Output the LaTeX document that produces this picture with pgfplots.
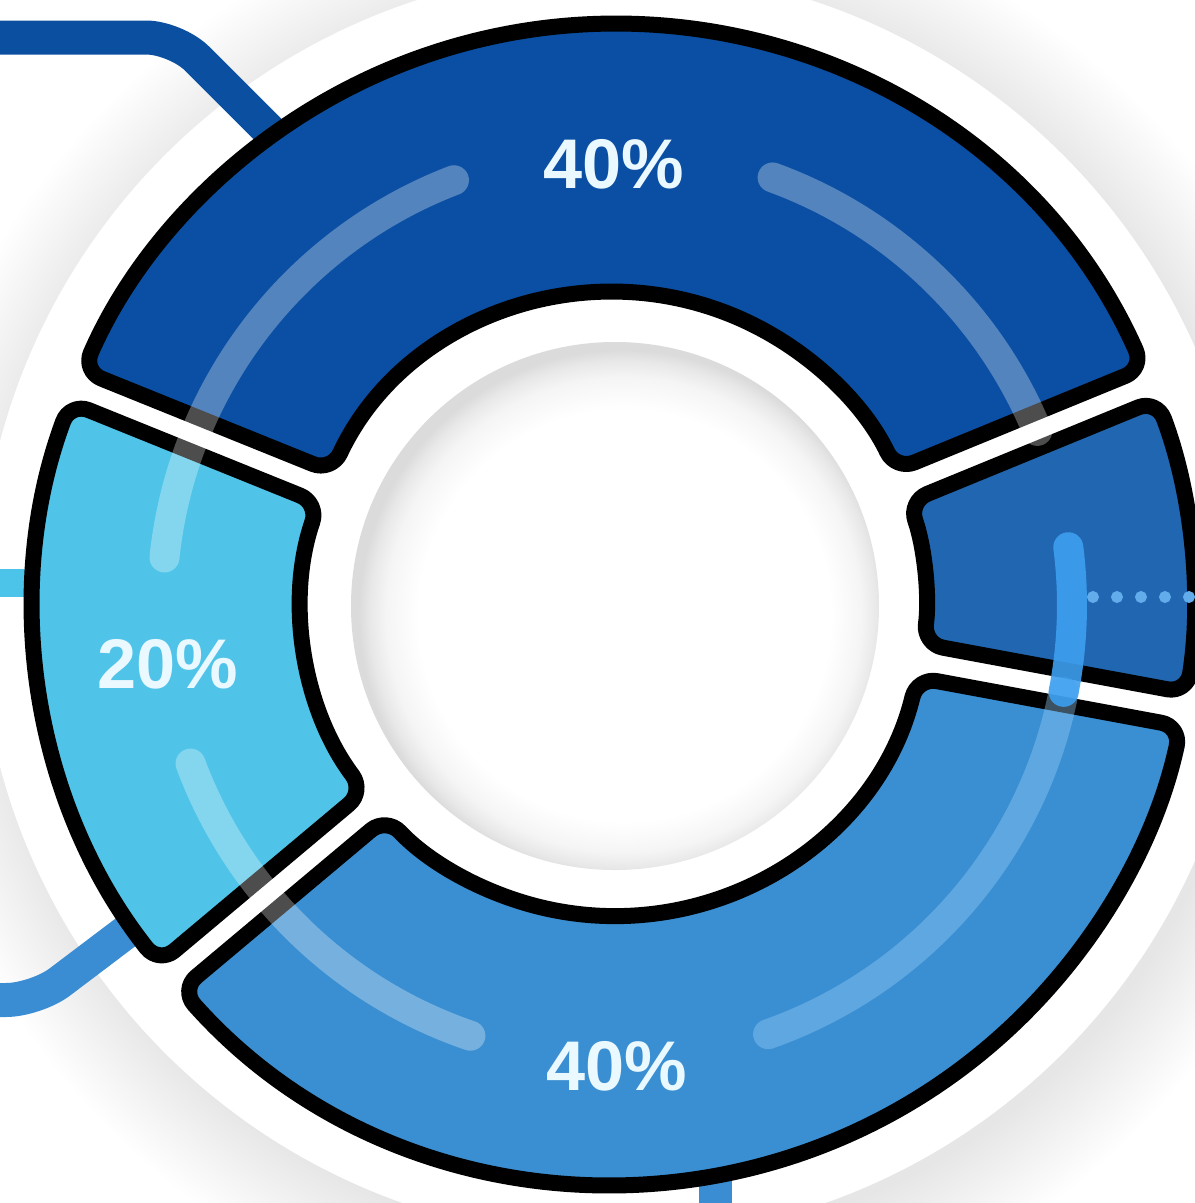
\documentclass[border=0pt]{standalone}
\usepackage{fontspec}
\setmainfont{Liberation Sans}
\usepackage{pgfplots}
\usepackage{pgfplotstable}
\pgfplotsset{compat=1.18}
\usetikzlibrary{calc}

\definecolor{segTop}{HTML}{0A4FA3}
\definecolor{segRight}{HTML}{2166B0}
\definecolor{segBottom}{HTML}{3A8FD2}
\definecolor{segLeft}{HTML}{4FC4E8}
\definecolor{lineDark}{HTML}{0B4FA0}
\definecolor{lineCyan}{HTML}{4CC3E8}
\definecolor{lineMid}{HTML}{3A8DD3}
\definecolor{dotBlue}{HTML}{62ACEC}
\definecolor{arcBlue}{HTML}{3D9FF0}
\definecolor{arcPale}{RGB}{150,205,245}
\definecolor{labelWhite}{HTML}{EAF8FF}

\pgfdeclareradialshading{holeshade}{\pgfpoint{1.5bp}{-1.5bp}}{%
  color(0bp)=(white); color(19.5bp)=(white); color(22.5bp)=(black!4);
  color(24bp)=(black!9); color(25bp)=(black!14); color(50bp)=(black!14)}

% ring segments: boundary angles (deg), share (%), show label, label position (px)
\pgfplotstableread{
from   to    share show lx  ly   col
22.3   158   40    1    614 164  segTop
158    220   20    1    168 664  segLeft
220    349.5 40    1    617 1066 segBottom
-10.5  22.3  10    0    0   0    segRight
}\segtable

\def\Ro{5.80}
\def\Ri{3.12}
\def\gp{0.17}

\begin{document}
\begin{tikzpicture}
\useasboundingbox (0,0) rectangle (11.95cm,12.03cm);
\begin{axis}[
  at={(0,0)}, anchor=south west,
  scale only axis, width=11.95cm, height=12.03cm,
  xmin=0, xmax=1195, ymin=0, ymax=1203, y dir=reverse,
  hide axis, clip=true]

% background shadow and white disk
\pgfplotsextra{
  \coordinate (C) at (axis cs:614,604);
  \coordinate (S) at (axis cs:624,616);
  \coordinate (H) at (axis cs:615,606);
  \coordinate (A) at (axis cs:617,605);
  \foreach \k in {0,...,24}{
    \fill[black, opacity=0.005] (S) circle[radius={6.3cm+\k*0.04cm}];
  }
  \fill[white] (C) circle[radius=6.35cm];
  % hole with soft inset shadow (stronger at top left)
  \shade[shading=holeshade] (H) circle[radius=2.64cm];
  % connector lines
  \draw[lineDark, line width=3.4mm, rounded corners=3mm]
    (axis cs:-30,37.5) -- (axis cs:176,37.5) -- (axis cs:330,191.5);
  \draw[lineCyan, line width=2.8mm] (axis cs:-30,583) -- (axis cs:120,583);
  \draw[lineMid, line width=3.4mm, rounded corners=3mm]
    (axis cs:-30,1000) -- (axis cs:36,1000) -- (axis cs:200,876);
  \draw[lineMid, line width=3.3mm] (axis cs:715,1100) -- (axis cs:715,1230);
  % segments
  \pgfplotstablegetrowsof{\segtable}
  \pgfmathtruncatemacro\nrows{\pgfplotsretval-1}
  \foreach \i in {0,...,\nrows}{
    \pgfplotstablegetelem{\i}{from}\of\segtable \pgfmathsetmacro\aF{\pgfplotsretval}
    \pgfplotstablegetelem{\i}{to}\of\segtable \pgfmathsetmacro\aT{\pgfplotsretval}
    \pgfplotstablegetelem{\i}{col}\of\segtable \edef\sc{\pgfplotsretval}
    \pgfmathsetmacro\oF{\aF+asin(\gp/\Ro)}
    \pgfmathsetmacro\oT{\aT-asin(\gp/\Ro)}
    \pgfmathsetmacro\iF{\aF+asin(\gp/\Ri)}
    \pgfmathsetmacro\iT{\aT-asin(\gp/\Ri)}
    \filldraw[fill=\sc, draw=black, line width=1.6mm, rounded corners=2mm, line join=round]
      ($(C)+(\oF:\Ro cm)$) arc[start angle=\oF, end angle=\oT, radius=\Ro cm]
      -- ($(C)+(\iT:\Ri cm)$) arc[start angle=\iT, end angle=\iF, radius=\Ri cm] -- cycle;
  }
  % translucent highlight arcs
  \draw[white, draw opacity=0.3, line width=3mm, line cap=round]
    ($(A)+(174:4.55cm)$) arc[start angle=174, end angle=111, radius=4.55cm];
  \draw[white, draw opacity=0.3, line width=3mm, line cap=round]
    ($(A)+(70:4.55cm)$) arc[start angle=70, end angle=22.5, radius=4.55cm];
  \draw[arcPale, draw opacity=0.4, line width=3mm, line cap=round]
    ($(A)+(-11:4.55cm)$) arc[start angle=-11, end angle=-70.6, radius=4.55cm];
  \draw[arcBlue, draw opacity=0.9, line width=3mm, line cap=round]
    ($(A)+(7.3:4.55cm)$) arc[start angle=7.3, end angle=-11, radius=4.55cm];
  \draw[white, draw opacity=0.3, line width=3mm, line cap=round]
    ($(A)+(200.4:4.55cm)$) arc[start angle=200.4, end angle=251.2, radius=4.55cm];
  % labels
  \foreach \i in {0,...,\nrows}{
    \pgfplotstablegetelem{\i}{show}\of\segtable \pgfmathtruncatemacro\sh{\pgfplotsretval}
    \ifnum\sh=1
      \pgfplotstablegetelem{\i}{share}\of\segtable \edef\shr{\pgfplotsretval}
      \pgfplotstablegetelem{\i}{lx}\of\segtable \edef\lx{\pgfplotsretval}
      \pgfplotstablegetelem{\i}{ly}\of\segtable \edef\ly{\pgfplotsretval}
      \node[text=labelWhite, font=\bfseries\fontsize{20}{24}\selectfont, inner sep=0pt]
        at (axis cs:\lx,\ly) {\shr\%};
    \fi
  }
}
% dotted leader on the right
\addplot[only marks, mark=*, mark size=1.5pt, color=dotBlue]
  coordinates {(1093,597) (1117,597) (1141,597) (1165,597) (1189,597)};
\end{axis}
\end{tikzpicture}
\end{document}
